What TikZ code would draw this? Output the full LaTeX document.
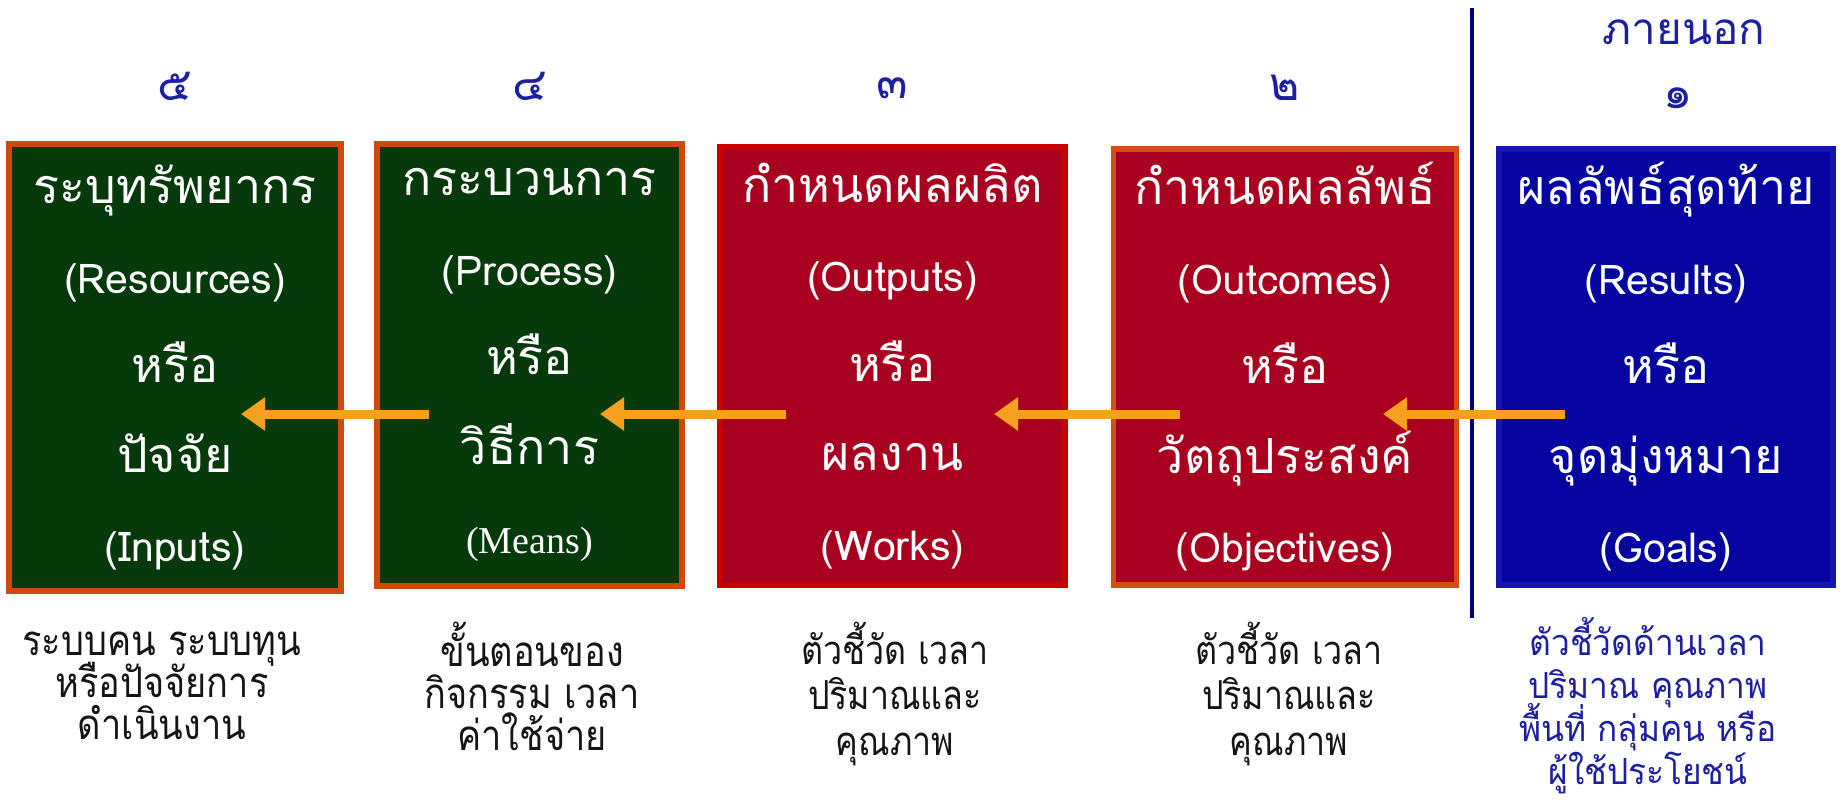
\documentclass[tikz,border=0pt]{standalone}
\usepackage{fontspec}
\usetikzlibrary{arrows.meta}
\setmainfont{Liberation Serif}
\newfontfamily\thai[Script=Thai]{Loma}
\newfontfamily\thaiL[Script=Thai,Scale=1.18]{Loma}
\newfontfamily\thaiA[Script=Thai,FakeStretch=0.86]{Loma}
\newfontfamily\thaiB[Script=Thai,FakeStretch=0.85]{Loma}
\newfontfamily\thaiC[Script=Thai,FakeStretch=0.93]{Loma}
\newcommand\tightlines{\lineskiplimit=-100pt\lineskip=0pt}
\definecolor{gfill}{HTML}{063A0A}
\definecolor{gline}{HTML}{D2470F}
\definecolor{rfill}{HTML}{A8001E}
\definecolor{rline}{HTML}{C80000}
\definecolor{oline}{HTML}{D2500F}
\definecolor{bfill}{HTML}{0505A0}
\definecolor{bline}{HTML}{1515B0}
\definecolor{numblue}{HTML}{1E1EA0}
\definecolor{arrorange}{HTML}{F5A01E}
\definecolor{sepblue}{HTML}{000080}
\definecolor{notegray}{HTML}{151515}
\begin{document}
\begin{tikzpicture}[x=0.5pt,y=-0.5pt,
  bx/.style n args={4}{draw=#2, fill=#1, line width=2.8pt, minimum width=#3*0.5pt, minimum height=#4*0.5pt,
     inner sep=0pt, text=white, align=center, font=\thaiL\fontsize{20.5}{44.75}\selectfont\tightlines},
  num/.style={text=numblue, font=\thai\fontsize{23}{26}\selectfont, inner sep=0pt},
  notea/.style={text=notegray, align=center, font=\thaiA\fontsize{21}{21}\selectfont\tightlines, inner sep=0pt},
  noteb/.style={text=notegray, align=center, font=\thaiB\fontsize{20}{22.75}\selectfont\tightlines, inner sep=0pt},
  notec/.style={text=numblue, align=center, font=\thaiC\fontsize{18}{21.5}\selectfont\tightlines, inner sep=0pt},
  arr/.style={draw=arrorange, line width=4.5pt, -{Triangle[length=12pt,width=16pt]}},
  vline/.style={draw=sepblue, line width=2pt}]
\useasboundingbox[fill=white] (0,0) rectangle (1845,803);

% boxes
\node[bx={gfill}{gline}{332}{447}] (b5) at (175,367.5)
  {ระบุทรัพยากร\\{\thai (Resources)}\\หรือ\\ปัจจัย\\{\thai (Inputs)}};
\node[bx={gfill}{gline}{305}{442}] (b4) at (529.5,365)
  {กระบวนการ\\{\thai (Process)}\\หรือ\\วิธีการ\\{\rmfamily\fontsize{19}{20}\selectfont(Means)}};
\node[bx={rfill}{rline}{345}{438}] (b3) at (892.5,366)
  {กำหนดผลผลิต\\{\thai (Outputs)}\\หรือ\\ผลงาน\\{\thai (Works)}};
\node[bx={rfill}{oline}{343}{436}] (b2) at (1285,367)
  {กำหนดผลลัพธ์\\{\thai (Outcomes)}\\หรือ\\วัตถุประสงค์\\{\thai (Objectives)}};
\node[bx={bfill}{bline}{334}{436}] (b1) at (1666,367)
  {ผลลัพธ์สุดท้าย\\{\thai (Results)}\\หรือ\\จุดมุ่งหมาย\\{\thai (Goals)}};

% numbers
\node[num] (n5) at (175,86) {๕};
\node[num] (n4) at (529.5,86) {๔};
\node[num] (n3) at (892.5,88) {๓};
\node[num] (n2) at (1285,88) {๒};
\node[num] (n1) at (1678,98) {๑};
\node[num, font=\thai\fontsize{22}{26}\selectfont] (outside) at (1684,32) {ภายนอก};

% separator
\coordinate (sepT) at (1472,8);
\coordinate (sepB) at (1472,618);
\draw[vline] (sepT) -- (sepB);

% arrows
\coordinate (a1s) at (1565,414); \coordinate (a1e) at (1383,414);
\coordinate (a2s) at (1180,414); \coordinate (a2e) at (994,414);
\coordinate (a3s) at (786,414);  \coordinate (a3e) at (600,414);
\coordinate (a4s) at (429,414);  \coordinate (a4e) at (241,414);
\draw[arr] (a1s) -- (a1e);
\draw[arr] (a2s) -- (a2e);
\draw[arr] (a3s) -- (a3e);
\draw[arr] (a4s) -- (a4e);

% notes
\node[notea] (t5) at (162,686) {ระบบคน ระบบทุน\\หรือปัจจัยการ\\ดำเนินงาน};
\node[notea] (t4) at (532,686) {ขั้นตอนของ\\กิจกรรม เวลา\\ค่าใช้จ่าย};
\node[noteb] (t3) at (895,694) {ตัวชี้วัด เวลา\\ปริมาณและ\\คุณภาพ};
\node[noteb] (t2) at (1289,694) {ตัวชี้วัด เวลา\\ปริมาณและ\\คุณภาพ};
\node[notec] (t1) at (1648,706) {ตัวชี้วัดด้านเวลา\\ปริมาณ คุณภาพ\\พื้นที่ กลุ่มคน หรือ\\ผู้ใช้ประโยชน์};
\end{tikzpicture}
\end{document}
